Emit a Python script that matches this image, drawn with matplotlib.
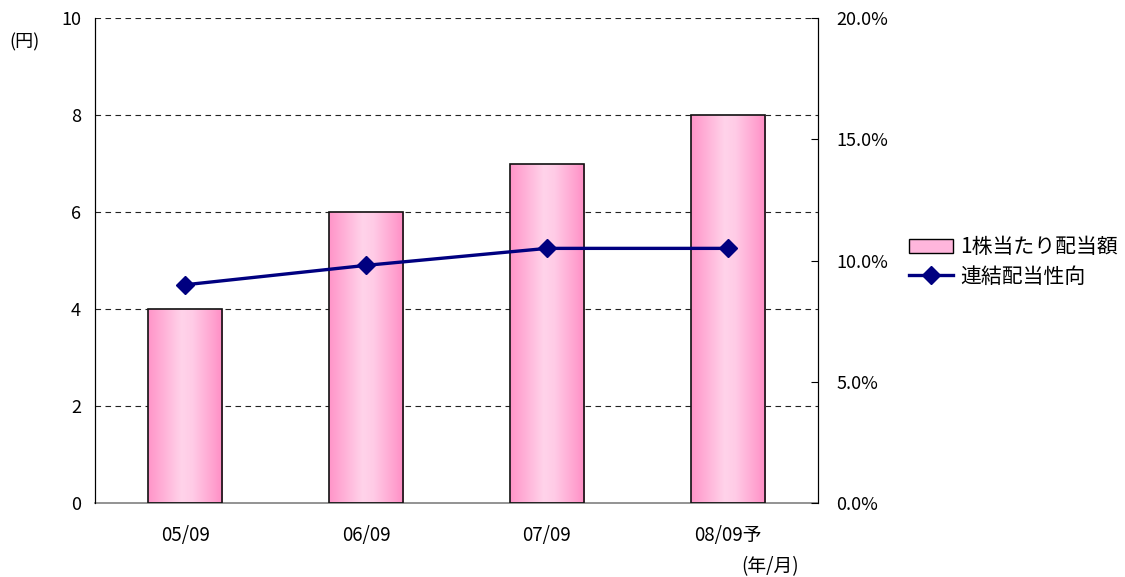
import numpy as np
import matplotlib
matplotlib.use("Agg")
import matplotlib.pyplot as plt
from matplotlib.colors import LinearSegmentedColormap
from matplotlib.ticker import FuncFormatter
from matplotlib.patches import Patch
from matplotlib.lines import Line2D

plt.rcParams['font.family'] = ['Noto Sans CJK JP', 'DejaVu Sans']

categories = ['05/09', '06/09', '07/09', '08/09予']
dividend = [4, 6, 7, 8]
payout_ratio = [9.0, 9.8, 10.5, 10.5]
left_ticks = [0, 2, 4, 6, 8, 10]
right_ticks = [0, 5, 10, 15, 20]

fig = plt.figure(figsize=(11.25, 5.77), dpi=100)
ax = fig.add_axes([95/1125, 1-503/577, (818-95)/1125, (503-18)/577])
ax2 = ax.twinx()

x = np.arange(len(categories))
width = 0.41
cmap = LinearSegmentedColormap.from_list(
    'pk', [(0.0, '#ff94c8'), (0.45, '#ffd3ea'), (0.6, '#ffcbe6'), (1.0, '#ff8ec5')])
grad = np.linspace(0, 1, 256).reshape(1, -1)

bars = ax.bar(x, dividend, width, facecolor='none', edgecolor='#111111', linewidth=1.2, zorder=3)
for b in bars:
    x0, y0 = b.get_x(), b.get_y()
    w, h = b.get_width(), b.get_height()
    im = ax.imshow(grad, cmap=cmap, extent=[x0, x0 + w, y0, y0 + h], aspect='auto', zorder=2)
    im.set_clip_path(b)

ax.set_xlim(-0.5, len(categories) - 0.5)
ax.set_ylim(0, 10)
ax.set_yticks(left_ticks)
ax.set_xticks(x)
ax.set_xticklabels(categories, fontsize=13.5)
ax.tick_params(axis='y', labelsize=13, length=0, pad=10)
ax.tick_params(axis='x', length=0, pad=16)
for t in left_ticks[1:]:
    ax.axhline(t, color='#222222', linestyle=(0, (5, 4)), linewidth=0.8, zorder=1)
ax.spines['top'].set_visible(False)
ax.spines['bottom'].set_color('#808080')
ax.spines['bottom'].set_linewidth(1.2)

ax2.plot(x, payout_ratio, color='#000080', linewidth=2.4, marker='D', markersize=9, zorder=5)
ax2.set_ylim(0, 20)
ax2.set_yticks(right_ticks)
ax2.yaxis.set_major_formatter(FuncFormatter(lambda v, p: f'{v:.1f}%'))
ax2.tick_params(axis='y', labelsize=13, length=5, direction='in', pad=13)
ax2.spines['top'].set_visible(False)
ax2.spines['bottom'].set_visible(False)

fig.text(9/1125, 1-42/577, '(円)', fontsize=13, ha='left', va='center')
fig.text(770/1125, 1-567/577, '(年/月)', fontsize=13.5, ha='center', va='center')

handles = [Patch(facecolor='#ffb6dc', edgecolor='black', linewidth=1.0),
           Line2D([0], [0], color='#000080', linewidth=2.4, marker='D', markersize=9)]
fig.legend(handles, ['1株当たり配当額', '連結配当性向'], loc='center left',
           bbox_to_anchor=(899/1125, 1-262/577), frameon=False, fontsize=15,
           handlelength=2.1, handletextpad=0.35, labelspacing=0.35, borderpad=0)

fig.savefig('out.png', dpi=100)
